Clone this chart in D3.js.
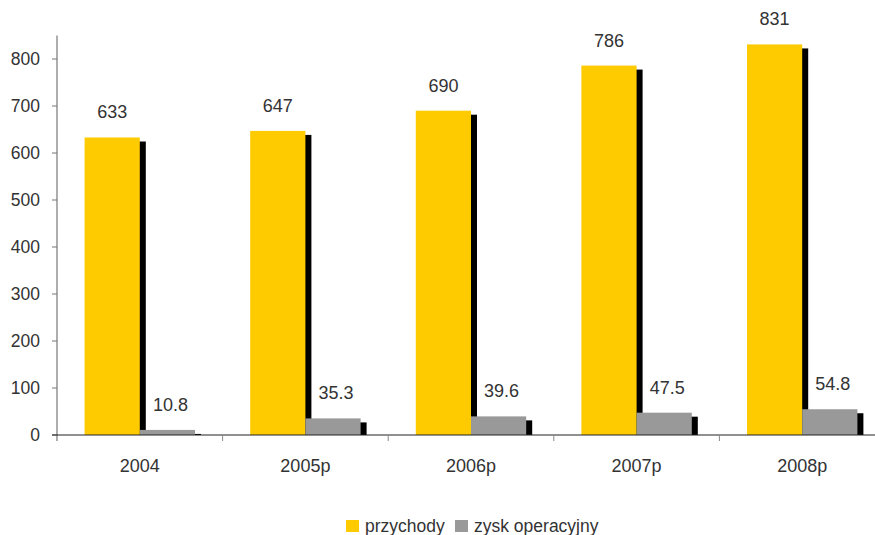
<!DOCTYPE html>
<html lang="pl">
<head>
  <meta charset="UTF-8">
  <title>Przychody i zysk operacyjny</title>
  <script src="https://d3js.org/d3.v7.min.js"></script>
  <style>
    body { margin: 0; background: #fff; }
    svg { font-family: "Liberation Sans", Arial, sans-serif; display: block; }
  </style>
</head>
<body>
  <svg width="875" height="535"></svg>
  <script>
    const years = ["2004", "2005p", "2006p", "2007p", "2008p"];
    const przychody = [633, 647, 690, 786, 831];
    const zysk = [10.8, 35.3, 39.6, 47.5, 54.8];
    const yTicks = [0, 100, 200, 300, 400, 500, 600, 700, 800];
    const seriesNames = ["przychody", "zysk operacyjny"];
    const colors = ["#fecb00", "#999999"];

    const svg = d3.select("svg");
    const x0 = 57, x1 = 885, yBase = 435, yTop = 35.5;

    const x = d3.scaleBand().domain(years).range([x0, x1]).padding(0);
    // two bars per year, half a bar of gap on each side
    const barW = x.bandwidth() / 3;
    const y = d3.scaleLinear().domain([0, 850]).range([yBase, yTop]);

    const data = years.map((yr, i) => ({ yr, vals: [przychody[i], zysk[i]] }));

    const shadowDx = 6, shadowDy = 4;
    svg.append("clipPath").attr("id", "plot")
      .append("rect").attr("x", x0).attr("y", 0).attr("width", x1 - x0).attr("height", yBase);

    const g = svg.append("g").attr("clip-path", "url(#plot)");
    // black shadows behind the bars
    data.forEach(d => {
      d.vals.forEach((v, k) => {
        const bx = x(d.yr) + barW / 2 + k * barW;
        g.append("rect")
          .attr("x", bx + shadowDx)
          .attr("y", y(v) + shadowDy)
          .attr("width", barW)
          .attr("height", yBase - y(v))
          .attr("fill", "#000");
      });
    });
    data.forEach(d => {
      d.vals.forEach((v, k) => {
        const bx = x(d.yr) + barW / 2 + k * barW;
        g.append("rect")
          .attr("x", bx)
          .attr("y", y(v))
          .attr("width", barW)
          .attr("height", yBase - y(v))
          .attr("fill", colors[k]);
        svg.append("text")
          .attr("x", bx + barW / 2 + (k === 1 ? 3 : 0))
          .attr("y", y(v) - 19)
          .attr("text-anchor", "middle")
          .attr("font-size", 18)
          .attr("fill", "#333")
          .text(v);
      });
    });

    // y axis
    svg.append("line")
      .attr("x1", x0).attr("x2", x0).attr("y1", y(850)).attr("y2", yBase + 6)
      .attr("stroke", "#777").attr("stroke-width", 1.2);
    yTicks.forEach(t => {
      svg.append("line")
        .attr("x1", x0 - 5).attr("x2", x0).attr("y1", y(t)).attr("y2", y(t))
        .attr("stroke", "#777").attr("stroke-width", 1);
      svg.append("text")
        .attr("x", x0 - 17).attr("y", y(t)).attr("dy", "0.35em")
        .attr("text-anchor", "end").attr("font-size", 17.5).attr("fill", "#333")
        .text(t);
    });

    // x axis
    svg.append("line")
      .attr("x1", x0 - 5).attr("x2", x1).attr("y1", yBase).attr("y2", yBase)
      .attr("stroke", "#222").attr("stroke-width", 1.2);
    years.forEach(yr => {
      const tx = x(yr) + x.bandwidth();
      svg.append("line")
        .attr("x1", tx).attr("x2", tx).attr("y1", yBase).attr("y2", yBase + 6)
        .attr("stroke", "#888").attr("stroke-width", 1);
      svg.append("text")
        .attr("x", x(yr) + x.bandwidth() / 2).attr("y", 472)
        .attr("text-anchor", "middle").attr("font-size", 18).attr("fill", "#333")
        .text(yr);
    });

    // legend
    const legendX = [346, 455];
    seriesNames.forEach((name, k) => {
      svg.append("rect")
        .attr("x", legendX[k]).attr("y", 520).attr("width", 13).attr("height", 12)
        .attr("fill", colors[k]);
      svg.append("text")
        .attr("x", legendX[k] + 19).attr("y", 532)
        .attr("font-size", 17.5).attr("fill", "#333")
        .text(name);
    });
  </script>
</body>
</html>
